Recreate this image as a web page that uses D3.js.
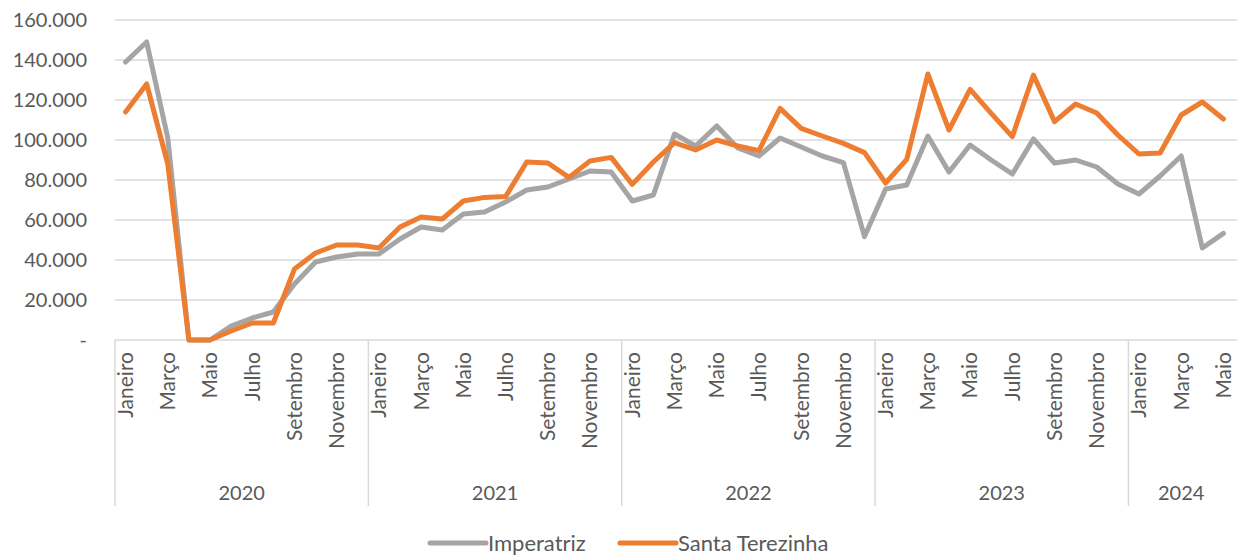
<!DOCTYPE html>
<meta charset="utf-8">
<script src="https://d3js.org/d3.v7.min.js"></script>
<style>
body { margin: 0; background: #fff; }
svg text { font-family: Lato, "Open Sans", sans-serif; fill: #595959; }
</style>
<body>
<svg id="chart" width="1237" height="557"></svg>
</body>
<script>
  // month labels shown on the axis (every other month)
  var monthNames = ["Janeiro", "Fevereiro", "Março", "Abril", "Maio", "Junho",
                    "Julho", "Agosto", "Setembro", "Outubro", "Novembro", "Dezembro"];
  var years = [2020, 2021, 2022, 2023, 2024];
  var monthsPerYear = [12, 12, 12, 12, 5];
  var yTicks = [0, 20000, 40000, 60000, 80000, 100000, 120000, 140000, 160000];

  var imperatriz = [139000, 149000, 101000, 0, 0, 7000, 11000, 14000, 28000, 39000, 41500, 43000,
                    43000, 50500, 56500, 55000, 63000, 64000, 69000, 75000, 76500, 80500, 84500, 84000,
                    69500, 72500, 103000, 97000, 107000, 96000, 92000, 101000, 96500, 92000, 88700, 51700,
                    75500, 77500, 102000, 84000, 97500, 90000, 83000, 100500, 88500, 90000, 86500, 78000,
                    73000, 82000, 92000, 46000, 53300];
  var santaTerezinha = [114000, 128000, 88000, 0, 0, 4500, 8500, 8500, 35500, 43500, 47500, 47500,
                    46000, 56500, 61500, 60500, 69500, 71300, 71700, 89000, 88500, 81300, 89500, 91300,
                    77800, 89000, 98700, 95000, 100000, 97000, 94700, 115800, 105800, 102000, 98300, 93700,
                    78500, 90300, 133000, 105000, 125300, 113300, 101700, 132500, 109200, 118000, 113500, 102500,
                    93000, 93500, 112500, 119000, 110500];

  var series = [
    {name: "Imperatriz", values: imperatriz, color: "#a5a5a5"},
    {name: "Santa Terezinha", values: santaTerezinha, color: "#ed7d31"}
  ];

  // build month index list
  var months = [];
  years.forEach(function(y, yi) {
    for (var m = 0; m < monthsPerYear[yi]; m++) months.push({year: y, month: m});
  });

  var plotLeft = 115, plotRight = 1234, plotTop = 20, plotBottom = 340;
  var svg = d3.select("#chart");

  var x = d3.scaleBand()
      .domain(d3.range(months.length))
      .range([plotLeft, plotRight]);

  var y = d3.scaleLinear()
      .domain([0, 160000])
      .range([plotBottom, plotTop]);

  var fmt = function(v) {
    return v === 0 ? "-" : d3.format(",")(v).replace(/,/g, ".");
  };

  // gridlines
  svg.append("g").selectAll("line")
      .data(yTicks.filter(function(d) { return d > 0; }))
    .enter().append("line")
      .attr("x1", plotLeft).attr("x2", 1237)
      .attr("y1", function(d) { return y(d); })
      .attr("y2", function(d) { return y(d); })
      .style("stroke", "#d9d9d9")
      .style("stroke-width", 1.5);

  // y labels
  svg.append("g").selectAll("text")
      .data(yTicks)
    .enter().append("text")
      .attr("x", 87)
      .attr("y", function(d) { return y(d); })
      .attr("dy", "0.35em")
      .attr("text-anchor", "end")
      .style("font-size", "20px")
      .text(fmt);

  // axis baseline
  svg.append("line")
      .attr("x1", plotLeft).attr("x2", 1237)
      .attr("y1", plotBottom).attr("y2", plotBottom)
      .style("stroke", "#d9d9d9")
      .style("stroke-width", 1.5);

  // year separators
  var starts = [0];
  monthsPerYear.forEach(function(n, i) { starts.push(starts[i] + n); });
  svg.append("g").selectAll("line")
      .data(starts.slice(0, -1))
    .enter().append("line")
      .attr("x1", function(d) { return x(d); })
      .attr("x2", function(d) { return x(d); })
      .attr("y1", plotBottom).attr("y2", 506)
      .style("stroke", "#d9d9d9")
      .style("stroke-width", 1.5);

  // month labels
  svg.append("g").selectAll("text")
      .data(months.map(function(d, i) { return {m: d.month, i: i}; })
                  .filter(function(d) { return d.m % 2 === 0; }))
    .enter().append("text")
      .attr("transform", function(d) {
        return "translate(" + (x(d.i) + x.bandwidth() / 2) + "," + 352 + ") rotate(-90)";
      })
      .attr("dy", "0.35em")
      .attr("text-anchor", "end")
      .style("font-size", "21px")
      .text(function(d) { return monthNames[d.m]; });

  // year labels
  svg.append("g").selectAll("text")
      .data(years)
    .enter().append("text")
      .attr("x", function(d, i) { return (x(starts[i]) + x(starts[i + 1] - 1) + x.bandwidth()) / 2; })
      .attr("y", 493)
      .attr("dy", "0.35em")
      .attr("text-anchor", "middle")
      .style("font-size", "20px")
      .text(function(d) { return d; });

  // lines
  var line = d3.line()
      .x(function(d, i) { return x(i) + x.bandwidth() / 2; })
      .y(function(d) { return y(d); });

  svg.append("g").selectAll("path")
      .data(series)
    .enter().append("path")
      .attr("d", function(d) { return line(d.values); })
      .style("fill", "none")
      .style("stroke", function(d) { return d.color; })
      .style("stroke-width", 5)
      .style("stroke-linejoin", "round")
      .style("stroke-linecap", "round");

  // legend
  var legendX = [430, 620];
  var lg = svg.append("g").selectAll("g")
      .data(series)
    .enter().append("g")
      .attr("transform", function(d, i) { return "translate(" + legendX[i] + ",543)"; });
  lg.append("line")
      .attr("x1", 0).attr("x2", 56)
      .style("stroke", function(d) { return d.color; })
      .style("stroke-width", 5)
      .style("stroke-linecap", "round");
  lg.append("text")
      .attr("x", 58)
      .attr("dy", "0.35em")
      .style("font-size", "22px")
      .text(function(d) { return d.name; });
</script>
